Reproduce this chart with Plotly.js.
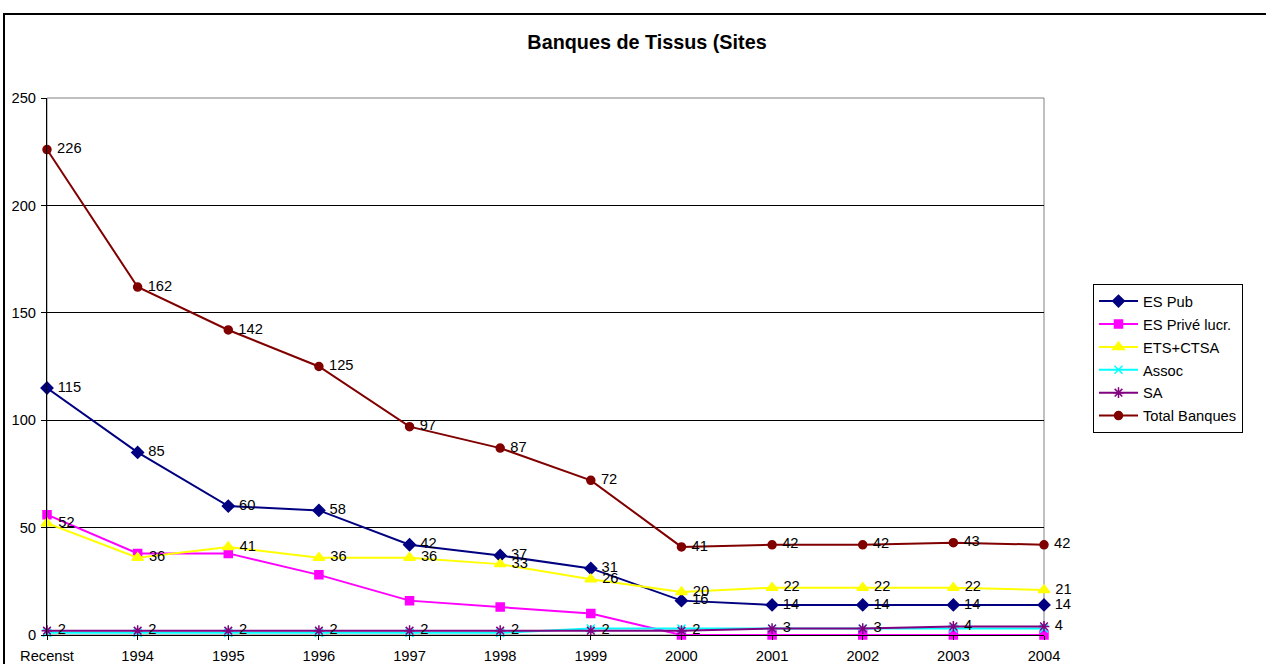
<!DOCTYPE html>
<html>
<head>
<meta charset="utf-8">
<script src="https://cdn.plot.ly/plotly-3.0.1.min.js"></script>
<style>
html,body{margin:0;padding:0;background:#fff;}
#chart{width:1266px;height:664px;}
</style>
</head>
<body>
<div id="chart"></div>
<script>
var categories = ["Recenst","1994","1995","1996","1997","1998","1999","2000","2001","2002","2003","2004"];
var esPub = [115,85,60,58,42,37,31,16,14,14,14,14];
var esPrive = [56,38,38,28,16,13,10,0,0,0,0,0];
var etsCtsa = [52,36,41,36,36,33,26,20,22,22,22,21];
var assoc = [1,1,1,1,1,1,3,3,3,3,3,3];
var sa = [2,2,2,2,2,2,2,2,3,3,4,4];
var total = [226,162,142,125,97,87,72,41,42,42,43,42];
var yTicks = [0,50,100,150,200,250];

var FONT = "Liberation Sans, Arial, sans-serif";
var FS = 14.7;
var xIdx = categories.map(function(c,i){return i;});

function series(name, y, color, symbol, size, labels){
  var t = {
    type:'scatter', name:name, x:xIdx, y:y, legendgroup:name,
    mode: labels ? 'lines+markers+text' : 'lines+markers',
    line:{color:color, width:2},
    marker:{color:color, symbol:symbol, size:size, line:{color:color, width:1.5}},
    cliponaxis:false
  };
  if(labels){
    t.text = y.map(function(v){return '\u00a0' + v;});
    t.textposition = 'middle right';
    t.textfont = {family:FONT, size:FS, color:'#000'};
  }
  return t;
}

var traces = [
  series('ES Pub', esPub, '#000080', 'diamond', 9, true),
  series('ES Privé lucr.', esPrive, '#FF00FF', 'square', 8, false),
  series('ETS+CTSA', etsCtsa, '#FFFF00', 'triangle-up', 10, true),
  series('Assoc', assoc, '#00FFFF', 'x-thin-open', 8, false),
  series('SA', sa, '#800080', 'asterisk-open', 9, true),
  series('Total Banques', total, '#800000', 'circle', 8, true)
];

var L = 47, R = 1044, T = 98, B = 635, W = 1266, H = 664;
var pw = R - L, ph = B - T;
function px(x){return (x - L)/pw;}
function py(y){return (B - y)/ph;}

var layout = {
  width:W, height:H,
  margin:{l:L, r:W-R, t:T, b:H-B, pad:0},
  paper_bgcolor:'#fff', plot_bgcolor:'#fff',
  font:{family:FONT, size:FS, color:'#000'},
  title:{text:'<b>Banques de Tissus (Sites</b>', x:px(647), xref:'paper', xanchor:'center', y:1-42/H, yanchor:'middle',
         font:{family:FONT, size:19.8, color:'#000'}},
  showlegend:true,
  legend:{x:px(1093), xanchor:'left', y:py(284), yanchor:'top',
          bordercolor:'#000', borderwidth:1, bgcolor:'#fff',
          font:{family:FONT, size:FS, color:'#000'}, tracegroupgap:0.8, itemwidth:39},
  xaxis:{
    range:[0,11], tickmode:'array', tickvals:xIdx, ticktext:categories,
    showgrid:false, zeroline:false, showline:true, linecolor:'#000', linewidth:1,
    ticks:'outside', ticklen:4, tickcolor:'#000', ticklabelstandoff:3,
    tickfont:{family:FONT, size:FS, color:'#000'}, fixedrange:true
  },
  yaxis:{
    range:[0,250], tickmode:'array', tickvals:yTicks,
    showgrid:true, gridcolor:'#000', gridwidth:1, zeroline:false,
    showline:true, linecolor:'#000', linewidth:1,
    ticks:'outside', ticklen:5, tickcolor:'#000', ticklabelstandoff:2,
    tickfont:{family:FONT, size:FS, color:'#000'}, fixedrange:true
  },
  shapes:[
    {type:'rect', xref:'paper', yref:'paper', x0:0, x1:1, y0:0, y1:1,
     line:{color:'#808080', width:1}, layer:'below'},
    {type:'rect', xref:'paper', yref:'paper', x0:px(4), x1:px(1268), y0:py(14), y1:py(670),
     line:{color:'#000', width:2}, layer:'above'}
  ]
};

Plotly.newPlot('chart', traces, layout, {displayModeBar:false, staticPlot:true});
</script>
</body>
</html>
